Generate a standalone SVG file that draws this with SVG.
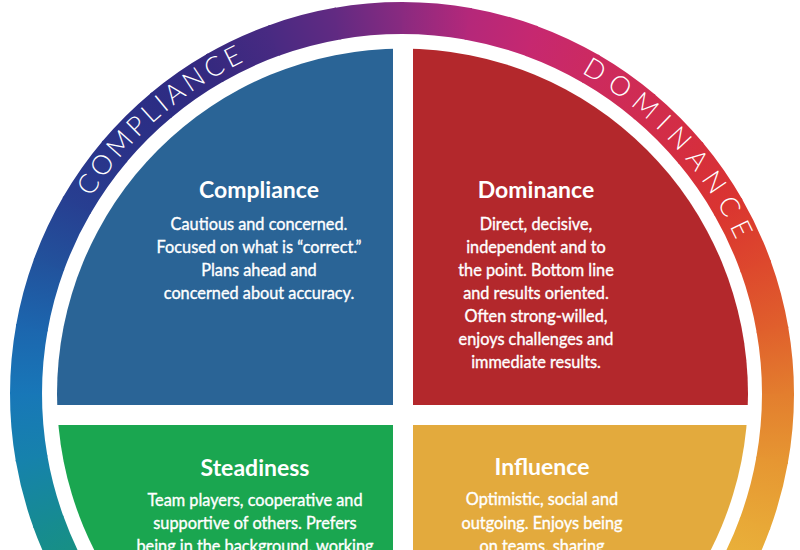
<svg xmlns="http://www.w3.org/2000/svg" width="800" height="550" viewBox="0 0 800 550">
<style>
.title{font-family:Lato,"Open Sans",sans-serif;font-weight:700;font-size:23px;fill:#ffffff;text-anchor:middle}
.body{font-family:Lato,"Open Sans",sans-serif;font-weight:400;font-size:16.3px;fill:#ffffff;stroke:#ffffff;stroke-width:0.35;text-anchor:middle}
.ring{font-family:Lato,"Open Sans",sans-serif;font-weight:300;font-size:27px;fill:#ffffff;text-anchor:middle}
.seg{fill:none;stroke-width:32}
</style>
<defs>
<path id="seg" d="M778,394 A376,376 0 0 1 771.94,461.24"/>
<path id="arc" d="M34,394 A368,368 0 0 1 770,394" fill="none"/>
<clipPath id="disc"><circle cx="402.5" cy="394" r="345.5"/></clipPath>
<linearGradient id="g150" x1="0" y1="0" x2="0" y2="1"><stop offset="0" stop-color="#18937a"/><stop offset="1" stop-color="#168b92"/></linearGradient>
<linearGradient id="g160" x1="0" y1="0" x2="0" y2="1"><stop offset="0" stop-color="#168b92"/><stop offset="1" stop-color="#1682ac"/></linearGradient>
<linearGradient id="g170" x1="0" y1="0" x2="0" y2="1"><stop offset="0" stop-color="#1682ac"/><stop offset="1" stop-color="#1877b8"/></linearGradient>
<linearGradient id="g180" x1="0" y1="0" x2="0" y2="1"><stop offset="0" stop-color="#1877b8"/><stop offset="1" stop-color="#1c66ae"/></linearGradient>
<linearGradient id="g190" x1="0" y1="0" x2="0" y2="1"><stop offset="0" stop-color="#1c66ae"/><stop offset="1" stop-color="#22529c"/></linearGradient>
<linearGradient id="g200" x1="0" y1="0" x2="0" y2="1"><stop offset="0" stop-color="#22529c"/><stop offset="1" stop-color="#273f91"/></linearGradient>
<linearGradient id="g210" x1="0" y1="0" x2="0" y2="1"><stop offset="0" stop-color="#273f91"/><stop offset="1" stop-color="#2a3389"/></linearGradient>
<linearGradient id="g220" x1="0" y1="0" x2="0" y2="1"><stop offset="0" stop-color="#2a3389"/><stop offset="1" stop-color="#2c2d84"/></linearGradient>
<linearGradient id="g230" x1="0" y1="0" x2="0" y2="1"><stop offset="0" stop-color="#2c2d84"/><stop offset="1" stop-color="#36297f"/></linearGradient>
<linearGradient id="g240" x1="0" y1="0" x2="0" y2="1"><stop offset="0" stop-color="#36297f"/><stop offset="1" stop-color="#492a82"/></linearGradient>
<linearGradient id="g250" x1="0" y1="0" x2="0" y2="1"><stop offset="0" stop-color="#492a82"/><stop offset="1" stop-color="#622a82"/></linearGradient>
<linearGradient id="g260" x1="0" y1="0" x2="0" y2="1"><stop offset="0" stop-color="#622a82"/><stop offset="1" stop-color="#8a2a80"/></linearGradient>
<linearGradient id="g270" x1="0" y1="0" x2="0" y2="1"><stop offset="0" stop-color="#8a2a80"/><stop offset="1" stop-color="#b4287a"/></linearGradient>
<linearGradient id="g280" x1="0" y1="0" x2="0" y2="1"><stop offset="0" stop-color="#b4287a"/><stop offset="1" stop-color="#c62870"/></linearGradient>
<linearGradient id="g290" x1="0" y1="0" x2="0" y2="1"><stop offset="0" stop-color="#c62870"/><stop offset="1" stop-color="#cc2a60"/></linearGradient>
<linearGradient id="g300" x1="0" y1="0" x2="0" y2="1"><stop offset="0" stop-color="#cc2a60"/><stop offset="1" stop-color="#d02c50"/></linearGradient>
<linearGradient id="g310" x1="0" y1="0" x2="0" y2="1"><stop offset="0" stop-color="#d02c50"/><stop offset="1" stop-color="#d52e3e"/></linearGradient>
<linearGradient id="g320" x1="0" y1="0" x2="0" y2="1"><stop offset="0" stop-color="#d52e3e"/><stop offset="1" stop-color="#da3530"/></linearGradient>
<linearGradient id="g330" x1="0" y1="0" x2="0" y2="1"><stop offset="0" stop-color="#da3530"/><stop offset="1" stop-color="#dd482d"/></linearGradient>
<linearGradient id="g340" x1="0" y1="0" x2="0" y2="1"><stop offset="0" stop-color="#dd482d"/><stop offset="1" stop-color="#e0602c"/></linearGradient>
<linearGradient id="g350" x1="0" y1="0" x2="0" y2="1"><stop offset="0" stop-color="#e0602c"/><stop offset="1" stop-color="#e37e2e"/></linearGradient>
<linearGradient id="g360" x1="0" y1="0" x2="0" y2="1"><stop offset="0" stop-color="#e37e2e"/><stop offset="1" stop-color="#e69632"/></linearGradient>
<linearGradient id="g370" x1="0" y1="0" x2="0" y2="1"><stop offset="0" stop-color="#e69632"/><stop offset="1" stop-color="#e8a837"/></linearGradient>
<linearGradient id="g380" x1="0" y1="0" x2="0" y2="1"><stop offset="0" stop-color="#e8a837"/><stop offset="1" stop-color="#eab63c"/></linearGradient>
</defs>
<rect width="800" height="550" fill="#ffffff"/>
<g id="ring">
<use href="#seg" class="seg" stroke="url(#g150)" transform="rotate(150 402 394)"/>
<use href="#seg" class="seg" stroke="url(#g160)" transform="rotate(160 402 394)"/>
<use href="#seg" class="seg" stroke="url(#g170)" transform="rotate(170 402 394)"/>
<use href="#seg" class="seg" stroke="url(#g180)" transform="rotate(180 402 394)"/>
<use href="#seg" class="seg" stroke="url(#g190)" transform="rotate(190 402 394)"/>
<use href="#seg" class="seg" stroke="url(#g200)" transform="rotate(200 402 394)"/>
<use href="#seg" class="seg" stroke="url(#g210)" transform="rotate(210 402 394)"/>
<use href="#seg" class="seg" stroke="url(#g220)" transform="rotate(220 402 394)"/>
<use href="#seg" class="seg" stroke="url(#g230)" transform="rotate(230 402 394)"/>
<use href="#seg" class="seg" stroke="url(#g240)" transform="rotate(240 402 394)"/>
<use href="#seg" class="seg" stroke="url(#g250)" transform="rotate(250 402 394)"/>
<use href="#seg" class="seg" stroke="url(#g260)" transform="rotate(260 402 394)"/>
<use href="#seg" class="seg" stroke="url(#g270)" transform="rotate(270 402 394)"/>
<use href="#seg" class="seg" stroke="url(#g280)" transform="rotate(280 402 394)"/>
<use href="#seg" class="seg" stroke="url(#g290)" transform="rotate(290 402 394)"/>
<use href="#seg" class="seg" stroke="url(#g300)" transform="rotate(300 402 394)"/>
<use href="#seg" class="seg" stroke="url(#g310)" transform="rotate(310 402 394)"/>
<use href="#seg" class="seg" stroke="url(#g320)" transform="rotate(320 402 394)"/>
<use href="#seg" class="seg" stroke="url(#g330)" transform="rotate(330 402 394)"/>
<use href="#seg" class="seg" stroke="url(#g340)" transform="rotate(340 402 394)"/>
<use href="#seg" class="seg" stroke="url(#g350)" transform="rotate(350 402 394)"/>
<use href="#seg" class="seg" stroke="url(#g360)" transform="rotate(0 402 394)"/>
<use href="#seg" class="seg" stroke="url(#g370)" transform="rotate(10 402 394)"/>
<use href="#seg" class="seg" stroke="url(#g380)" transform="rotate(20 402 394)"/>
</g>
<g id="ring-labels">
<text class="ring"><textPath href="#arc" startOffset="311" textLength="207" lengthAdjust="spacing">COMPLIANCE</textPath></text>
<text class="ring"><textPath href="#arc" startOffset="881" textLength="232" lengthAdjust="spacing">DOMINANCE</textPath></text>
</g>
<g id="compliance">
<rect x="0" y="0" width="393" height="405" fill="#2a6496" clip-path="url(#disc)"/>
<text class="title" x="259" y="198">Compliance</text>
<text class="body" x="259" y="230">Cautious and concerned.</text>
<text class="body" x="259" y="253">Focused on what is “correct.”</text>
<text class="body" x="259" y="276">Plans ahead and</text>
<text class="body" x="259" y="299">concerned about accuracy.</text>
</g>
<g id="dominance">
<rect x="413" y="0" width="387" height="405" fill="#b3282c" clip-path="url(#disc)"/>
<text class="title" x="536" y="198">Dominance</text>
<text class="body" x="536" y="230">Direct, decisive,</text>
<text class="body" x="536" y="253">independent and to</text>
<text class="body" x="536" y="276">the point. Bottom line</text>
<text class="body" x="536" y="299">and results oriented.</text>
<text class="body" x="536" y="322">Often strong-willed,</text>
<text class="body" x="536" y="345">enjoys challenges and</text>
<text class="body" x="536" y="368">immediate results.</text>
</g>
<g id="steadiness">
<rect x="0" y="425" width="393" height="125" fill="#1aa650" clip-path="url(#disc)"/>
<text class="title" x="255" y="476">Steadiness</text>
<text class="body" x="255" y="506">Team players, cooperative and</text>
<text class="body" x="255" y="529">supportive of others. Prefers</text>
<text class="body" x="255" y="552">being in the background, working</text>
</g>
<g id="influence">
<rect x="413" y="425" width="387" height="125" fill="#e3aa3d" clip-path="url(#disc)"/>
<text class="title" x="542" y="475">Influence</text>
<text class="body" x="542" y="505">Optimistic, social and</text>
<text class="body" x="542" y="529">outgoing. Enjoys being</text>
<text class="body" x="542" y="552">on teams, sharing</text>
</g>
</svg>
